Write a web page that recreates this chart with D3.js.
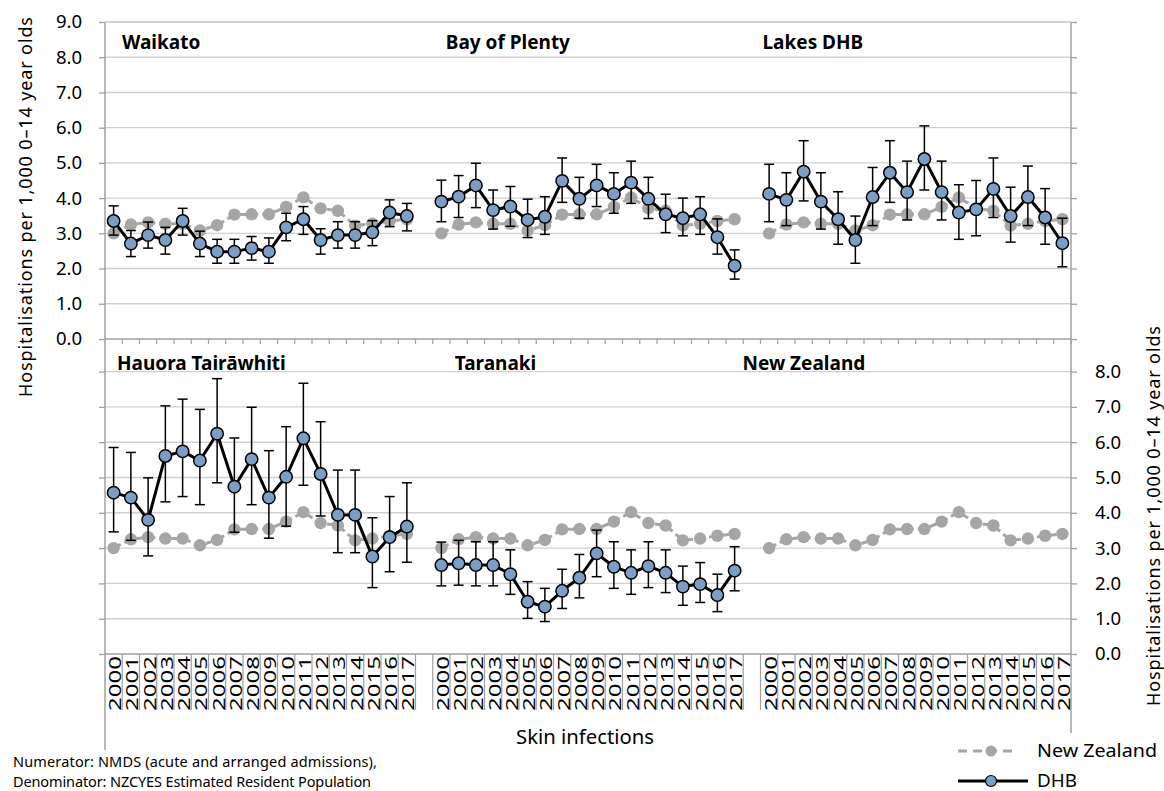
<!DOCTYPE html>
<html>
<head>
<meta charset="utf-8">
<script src="https://cdn.jsdelivr.net/npm/d3@7"></script>
<style>
  body { margin: 0; background: #fff; }
  svg { display: block; }
  text { font-family: "Noto Sans", "Open Sans", sans-serif; fill: #000; }
</style>
</head>
<body>
<svg id="chart" width="1164" height="791"></svg>
<script>
// tick labels
const years = ['2000', '2001', '2002', '2003', '2004', '2005', '2006', '2007', '2008',
  '2009', '2010', '2011', '2012', '2013', '2014', '2015', '2016', '2017']
const yTicks = [0, 1, 2, 3, 4, 5, 6, 7, 8, 9]

// New Zealand rate (same in every panel)
const nzRate = [3.00, 3.25, 3.31, 3.27, 3.27, 3.08, 3.23, 3.53, 3.54, 3.54, 3.75, 4.02, 3.71, 3.64, 3.22, 3.27, 3.35, 3.40]

// DHB rates and 95% CI
const waikato = [3.35, 2.71, 2.95, 2.81, 3.35, 2.71, 2.48, 2.48, 2.58, 2.48, 3.17, 3.40, 2.81, 2.95, 2.95, 3.03, 3.59, 3.49]
const waikatoLow = [2.95, 2.34, 2.58, 2.41, 2.95, 2.34, 2.15, 2.15, 2.24, 2.15, 2.79, 2.97, 2.41, 2.58, 2.58, 2.65, 3.19, 3.07]
const waikatoHigh = [3.78, 3.08, 3.32, 3.17, 3.71, 3.06, 2.83, 2.83, 2.91, 2.87, 3.57, 3.76, 3.13, 3.33, 3.33, 3.36, 3.95, 3.85]

const bayOfPlenty = [3.90, 4.04, 4.36, 3.66, 3.76, 3.38, 3.47, 4.49, 3.98, 4.36, 4.12, 4.44, 3.98, 3.54, 3.43, 3.54, 2.89, 2.08]
const bayOfPlentyLow = [3.33, 3.45, 3.73, 3.12, 3.20, 2.88, 2.97, 3.88, 3.43, 3.76, 3.57, 3.85, 3.42, 3.02, 2.93, 2.97, 2.41, 1.70]
const bayOfPlentyHigh = [4.51, 4.64, 4.99, 4.23, 4.33, 3.97, 4.04, 5.14, 4.59, 4.96, 4.72, 5.05, 4.59, 4.11, 4.00, 4.04, 3.41, 2.53]

const lakes = [4.12, 3.95, 4.75, 3.90, 3.40, 2.81, 4.03, 4.72, 4.17, 5.11, 4.17, 3.59, 3.68, 4.26, 3.49, 4.03, 3.45, 2.72]
const lakesLow = [3.33, 3.22, 3.92, 3.12, 2.69, 2.15, 3.22, 3.88, 3.38, 4.23, 3.38, 2.83, 2.93, 3.45, 2.75, 3.22, 2.69, 2.05]
const lakesHigh = [4.96, 4.72, 5.63, 4.72, 4.18, 3.49, 4.87, 5.63, 5.05, 6.05, 5.05, 4.38, 4.50, 5.14, 4.31, 4.91, 4.27, 3.43]

const tairawhiti = [4.57, 4.43, 3.80, 5.61, 5.74, 5.48, 6.24, 4.74, 5.52, 4.43, 5.02, 6.11, 5.10, 3.94, 3.94, 2.76, 3.31, 3.61]
const tairawhitiLow = [3.46, 3.22, 2.78, 4.31, 4.46, 4.23, 4.85, 3.45, 4.23, 3.28, 3.62, 4.78, 3.91, 2.87, 2.87, 1.88, 2.33, 2.60]
const tairawhitiHigh = [5.85, 5.71, 4.99, 7.03, 7.22, 6.93, 7.80, 6.12, 6.99, 5.76, 6.44, 7.67, 6.58, 5.21, 5.21, 3.86, 4.46, 4.85]

const taranaki = [2.52, 2.57, 2.52, 2.52, 2.26, 1.48, 1.34, 1.79, 2.16, 2.85, 2.47, 2.30, 2.49, 2.30, 1.91, 1.98, 1.67, 2.36]
const taranakiLow = [1.93, 1.95, 1.93, 1.93, 1.69, 1.01, 0.92, 1.29, 1.59, 2.19, 1.86, 1.69, 1.88, 1.74, 1.38, 1.46, 1.20, 1.79]
const taranakiHigh = [3.17, 3.22, 3.18, 3.18, 2.95, 2.05, 1.86, 2.40, 2.82, 3.51, 3.18, 2.95, 3.18, 2.95, 2.49, 2.59, 2.26, 3.04]

const panelNames = ['Waikato', 'Bay of Plenty', 'Lakes DHB', 'Hauora Tairāwhiti', 'Taranaki', 'New Zealand']

const panels = [
  {name: panelNames[0], rate: waikato, low: waikatoLow, high: waikatoHigh},
  {name: panelNames[1], rate: bayOfPlenty, low: bayOfPlentyLow, high: bayOfPlentyHigh},
  {name: panelNames[2], rate: lakes, low: lakesLow, high: lakesHigh},
  {name: panelNames[3], rate: tairawhiti, low: tairawhitiLow, high: tairawhitiHigh},
  {name: panelNames[4], rate: taranaki, low: taranakiLow, high: taranakiHigh},
  {name: panelNames[5], rate: null},
]

// layout
const LEFT = 105
const RIGHT = 1071
const titleOffset = [17, 13, 2, 12, 22, -18]
const GRID = '#d0d0d0'
const AXIS = '#a0a0a0'
const NZ_COLOR = '#a6a6a6'
const DHB_FILL = '#7b9fc4'

const svg = d3.select('#chart')

// 3 groups of 18 years, with one empty category between groups
const cats = []
;[0, 1, 2].forEach((g) => {
  if (g > 0) cats.push('gap' + g)
  years.forEach((y) => cats.push(g + '-' + y))
})

const x = d3.scaleBand().domain(cats).range([LEFT, RIGHT]).padding(0)
const bw = x.bandwidth()
const cx = (g, i) => x(g + '-' + years[i]) + bw / 2

const yTop = d3.scaleLinear().domain([0, 9]).range([339, 22])
const yBot = d3.scaleLinear().domain([0, 9]).range([654, 336.3])

// gridlines
const grid = svg.append('g')
grid.selectAll('line.top').data(yTicks.slice(1)).join('line')
  .attr('x1', LEFT).attr('x2', RIGHT)
  .attr('y1', (d) => yTop(d)).attr('y2', (d) => yTop(d))
  .attr('stroke', GRID).attr('stroke-width', 1.4)
grid.selectAll('line.bot').data(yTicks.slice(1, 9)).join('line')
  .attr('x1', LEFT).attr('x2', RIGHT)
  .attr('y1', (d) => yBot(d)).attr('y2', (d) => yBot(d))
  .attr('stroke', GRID).attr('stroke-width', 1.4)

// axes
const styleAxis = (g) => {
  g.selectAll('.domain').remove()
  g.selectAll('.tick line').attr('stroke', AXIS).attr('stroke-width', 1.3)
  g.selectAll('.tick text').style('font-size', '18.5px').attr('fill', '#222')
}

svg.append('g').attr('transform', `translate(${LEFT},0)`)
  .call(d3.axisLeft(yTop).tickValues(yTicks).tickFormat(d3.format('.1f')).tickSize(6).tickPadding(17))
  .call(styleAxis)
svg.append('g').attr('transform', `translate(${LEFT},0)`)
  .call(d3.axisLeft(yBot).tickValues(yTicks.slice(0, 9)).tickFormat('').tickSize(6))
  .call(styleAxis)
svg.append('g').attr('transform', `translate(${RIGHT},0)`)
  .call(d3.axisRight(yTop).tickValues(yTicks).tickFormat('').tickSize(6))
  .call(styleAxis)
svg.append('g').attr('transform', `translate(${RIGHT},0)`)
  .call(d3.axisRight(yBot).tickValues(yTicks.slice(0, 9)).tickFormat(d3.format('.1f')).tickSize(6).tickPadding(18))
  .call(styleAxis)

// axis lines
const lines = svg.append('g').attr('stroke', AXIS).attr('stroke-width', 1.5)
lines.append('line').attr('x1', LEFT).attr('x2', LEFT).attr('y1', 22).attr('y2', 750)
lines.append('line').attr('x1', RIGHT).attr('x2', RIGHT).attr('y1', 22).attr('y2', 733)
lines.append('line').attr('x1', LEFT).attr('x2', RIGHT).attr('y1', 22).attr('y2', 22).attr('stroke', GRID)
lines.append('line').attr('x1', LEFT).attr('x2', RIGHT).attr('y1', yTop(0)).attr('y2', yTop(0))
lines.append('line').attr('x1', LEFT).attr('x2', RIGHT).attr('y1', yBot(0)).attr('y2', yBot(0))

// category ticks under the top panel and label separators under the bottom one
const bounds = cats.map((c) => x(c)).slice(1).concat([RIGHT])
lines.selectAll('line.tk').data(bounds).join('line')
  .attr('x1', (d) => d).attr('x2', (d) => d)
  .attr('y1', yTop(0)).attr('y2', yTop(0) + 5).attr('stroke-width', 1.2)
lines.selectAll('line.sep').data(bounds.slice(0, -1)).join('line')
  .attr('x1', (d) => d).attr('x2', (d) => d)
  .attr('y1', yBot(0)).attr('y2', 710).attr('stroke-width', 1.2)

// year labels
svg.append('g').selectAll('text')
  .data(cats.filter((c) => !c.startsWith('gap')))
  .join('text')
  .attr('transform', (c) => `translate(${x(c) + bw / 2 + 1},${yBot(0) + 2}) rotate(-90)`)
  .attr('text-anchor', 'end')
  .attr('dominant-baseline', 'central')
  .attr('textLength', 55)
  .attr('lengthAdjust', 'spacingAndGlyphs')
  .style('font-size', '16.5px')
  .text((c) => c.split('-')[1])

// series
panels.forEach((p, k) => {
  const g = k % 3
  const y = k < 3 ? yTop : yBot
  const layer = svg.append('g')

  const line = d3.line().x((d, i) => cx(g, i)).y((d) => y(d))

  // New Zealand reference
  layer.append('path').datum(nzRate)
    .attr('d', line).attr('fill', 'none')
    .attr('stroke', NZ_COLOR).attr('stroke-width', 3).attr('stroke-dasharray', '8,4')
  layer.selectAll('circle.nz').data(nzRate).join('circle')
    .attr('cx', (d, i) => cx(g, i)).attr('cy', (d) => y(d)).attr('r', 6.2)
    .attr('fill', NZ_COLOR)

  if (p.rate) {
    const eb = layer.append('g').attr('stroke', '#000').attr('stroke-width', 1.5)
    p.rate.forEach((v, i) => {
      const xc = cx(g, i)
      eb.append('line').attr('x1', xc).attr('x2', xc).attr('y1', y(p.low[i])).attr('y2', y(p.high[i]))
      eb.append('line').attr('x1', xc - 5).attr('x2', xc + 5).attr('y1', y(p.low[i])).attr('y2', y(p.low[i]))
      eb.append('line').attr('x1', xc - 5).attr('x2', xc + 5).attr('y1', y(p.high[i])).attr('y2', y(p.high[i]))
    })
    layer.append('path').datum(p.rate)
      .attr('d', line).attr('fill', 'none')
      .attr('stroke', '#000').attr('stroke-width', 3).attr('stroke-linejoin', 'round')
    layer.selectAll('circle.dhb').data(p.rate).join('circle')
      .attr('cx', (d, i) => cx(g, i)).attr('cy', (d) => y(d)).attr('r', 6.2)
      .attr('fill', DHB_FILL).attr('stroke', '#000').attr('stroke-width', 1.5)
  }

  // panel title
  svg.append('text')
    .attr('x', x(cats[g * 19]) + titleOffset[k])
    .attr('y', k < 3 ? 49 : 370)
    .style('font-size', '19px').style('font-weight', 'bold')
    .text(p.name)
})

// axis titles
const yTitle = 'Hospitalisations per 1,000 0–14 year olds'
svg.append('text')
  .attr('transform', 'translate(32,207) rotate(-90)')
  .attr('text-anchor', 'middle').style('font-size', '18px').attr('fill', '#222')
  .attr('textLength', 380).attr('lengthAdjust', 'spacing')
  .text(yTitle)
svg.append('text')
  .attr('transform', 'translate(1160,516) rotate(-90)')
  .attr('text-anchor', 'middle').style('font-size', '18px').attr('fill', '#222')
  .attr('textLength', 380).attr('lengthAdjust', 'spacing')
  .text(yTitle)
svg.append('text')
  .attr('x', 585).attr('y', 744).attr('text-anchor', 'middle')
  .style('font-size', '19px').attr('fill', '#222')
  .attr('textLength', 138).attr('lengthAdjust', 'spacingAndGlyphs')
  .text('Skin infections')

// legend
const lg = svg.append('g')
lg.append('line').attr('x1', 958).attr('x2', 1015).attr('y1', 751).attr('y2', 751)
  .attr('stroke', NZ_COLOR).attr('stroke-width', 3).attr('stroke-dasharray', '9,6')
lg.append('circle').attr('cx', 991).attr('cy', 751).attr('r', 5.5).attr('fill', NZ_COLOR)
lg.append('text').attr('x', 1037).attr('y', 757).style('font-size', '17.5px').attr('fill', '#222')
  .attr('textLength', 120).attr('lengthAdjust', 'spacingAndGlyphs')
  .text('New Zealand')
lg.append('line').attr('x1', 958).attr('x2', 1028).attr('y1', 781).attr('y2', 781)
  .attr('stroke', '#000').attr('stroke-width', 3)
lg.append('circle').attr('cx', 991).attr('cy', 781).attr('r', 5.5)
  .attr('fill', DHB_FILL).attr('stroke', '#000').attr('stroke-width', 1.2)
lg.append('text').attr('x', 1037).attr('y', 787).style('font-size', '17.5px').attr('fill', '#222')
  .attr('textLength', 40).attr('lengthAdjust', 'spacingAndGlyphs')
  .text('DHB')

// footnote
const foot = svg.append('g').style('font-size', '14.5px').attr('fill', '#333')
foot.append('text').attr('x', 13).attr('y', 767).attr('textLength', 364).attr('lengthAdjust', 'spacing')
  .text('Numerator: NMDS (acute and arranged admissions),')
foot.append('text').attr('x', 13).attr('y', 787).attr('textLength', 358).attr('lengthAdjust', 'spacing')
  .text('Denominator: NZCYES Estimated Resident Population')
</script>
</body>
</html>
